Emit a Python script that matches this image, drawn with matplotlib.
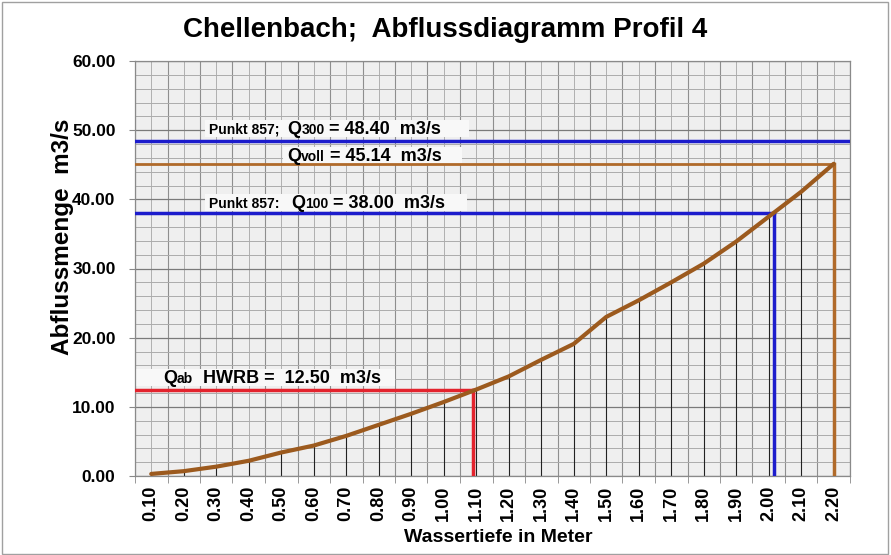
import matplotlib
matplotlib.use("Agg")
import matplotlib.pyplot as plt
from matplotlib.patches import Rectangle
import numpy as np

# ---- data ----
depth = [0.10, 0.20, 0.30, 0.40, 0.50, 0.60, 0.70, 0.80, 0.90, 1.00, 1.10,
         1.20, 1.30, 1.40, 1.50, 1.60, 1.70, 1.80, 1.90, 2.00, 2.10, 2.20]
flow = [0.3, 0.7, 1.35, 2.2, 3.4, 4.4, 5.8, 7.4, 9.0, 10.7, 12.5,
        14.4, 16.8, 19.1, 23.0, 25.4, 28.0, 30.7, 33.9, 37.5, 41.1, 45.14]
tick_labels = ["0.10", "0.20", "0.30", "0.40", "0.50", "0.60", "0.70", "0.80",
               "0.90", "1.00", "1.10", "1.20", "1.30", "1.40", "1.50", "1.60",
               "1.70", "1.80", "1.90", "2.00", "2.10", "2.20"]
q300 = 48.40
qvoll = 45.14
h_voll = 2.20
q100 = 38.00
h_100 = 2.015
qab = 12.50
h_ab = 1.09

plt.rcParams['font.family'] = ['Liberation Sans', 'DejaVu Sans']
plt.rcParams['font.weight'] = 'bold'

W, H = 891, 555
fig = plt.figure(figsize=(W / 100, H / 100), dpi=100)
ax = fig.add_axes([135 / W, 1 - 476 / H, 715 / W, 415 / H])
ax.set_facecolor('#efefef')

ax.set_xlim(0.05, 2.25)
ax.set_ylim(0, 60)

# grid
ax.set_xticks(depth)
ax.set_xticklabels(tick_labels, rotation=90, fontsize=13, fontweight='bold')
ax.set_xticks(np.arange(0.05, 2.26, 0.1), minor=True)
ax.set_yticks(np.arange(0, 61, 10))
ax.set_yticklabels([f"{v:.2f}" for v in np.arange(0, 61, 10)], fontsize=12.5, fontweight='bold')
ax.set_yticks(np.arange(0, 61, 2), minor=True)
ax.grid(which='major', axis='y', color='#7a7a7a', lw=0.9, zorder=0)
ax.grid(which='minor', axis='y', color='#ababab', lw=0.7, zorder=0)
ax.grid(which='major', axis='x', color='#b0b0b0', lw=0.7, zorder=0)
ax.grid(which='minor', axis='x', color='#8e8e8e', lw=0.8, zorder=0)
ax.set_axisbelow(True)
ax.tick_params(axis='x', which='major', length=0, pad=7)
ax.tick_params(axis='x', which='minor', length=5, color='#888888')
ax.tick_params(axis='y', which='major', length=4, color='#888888', pad=10)
ax.tick_params(axis='y', which='minor', length=0)
for s in ax.spines.values():
    s.set_color('#8a8a8a')
    s.set_linewidth(0.9)

# drop lines
ax.vlines(depth[:-1], 0, flow[:-1], color='#222222', lw=0.8, zorder=2)

# reference lines
ax.axhline(q300, color='#1c1ccc', lw=2.5, zorder=3)
ax.plot([0.05, h_voll], [qvoll, qvoll], color='#b06a2a', lw=2, zorder=3)
ax.plot([h_voll, h_voll], [0, qvoll], color='#b06a2a', lw=2.5, zorder=3)
ax.plot([0.05, h_100], [q100, q100], color='#1c1ccc', lw=2.5, zorder=3)
ax.plot([h_100, h_100], [0, q100], color='#1c1ccc', lw=2.5, zorder=3)
ax.plot([0.05, h_ab], [qab, qab], color='#e3232d', lw=2.5, zorder=3)
ax.plot([h_ab, h_ab], [0, qab], color='#e3232d', lw=2.5, zorder=3)

# curve
ax.plot(depth, flow, color='#9c5a1e', lw=3, zorder=4, solid_capstyle='round')

fig.text(498 / W, 1 - 537 / H, "Wassertiefe in Meter", ha='center', va='center',
         fontsize=14, fontweight='bold')
fig.text(62 / W, 1 - 237 / H, "Abflussmenge  m3/s", ha='center', va='center',
         rotation=90, fontsize=17.5, fontweight='bold')
fig.text(0.5, 1 - 30 / H, "Chellenbach;  Abflussdiagramm Profil 4", ha='center', va='center',
         fontsize=20, fontweight='bold')

BIG = 13
SMALL = 10

groups = [
    (209, 134, [("Punkt 857;  ", SMALL), ("Q", BIG), ("300", SMALL), (" = 48.40  m3/s", BIG)], (4, 28)),
    (287, 161, [("Q", BIG), ("voll", SMALL), (" = 45.14  m3/s", BIG)], (4, 20)),
    (209, 208, [("Punkt 857:   ", SMALL), ("Q", BIG), ("100", SMALL), (" = 38.00  m3/s", BIG)], (4, 22)),
    (163, 383, [("Q", BIG), ("ab", SMALL), ("  HWRB =  12.50  m3/s", BIG)], (28, 14)),
]
all_texts = []
for x, y, pcs, pad in groups:
    texts = []
    for txt, sz in pcs:
        t = ax.text(x / W, 1 - y / H, txt, transform=fig.transFigure, fontsize=sz,
                    fontweight='bold', ha='left', va='baseline', zorder=6)
        texts.append(t)
    all_texts.append((x, y, texts, pad))

fig.canvas.draw()
r = fig.canvas.get_renderer()
for x, y, texts, pad in all_texts:
    cur = x
    for t in texts:
        t.set_x(cur / W)
        cur += t.get_window_extent(r).width
fig.canvas.draw()
for x, y, texts, pad in all_texts:
    bbs = [t.get_window_extent(r) for t in texts]
    x0 = min(b.x0 for b in bbs) - pad[0]
    x1 = max(b.x1 for b in bbs) + pad[1]
    y0 = min(b.y0 for b in bbs) + 1
    y1 = max(b.y1 for b in bbs) + 1
    x0 = max(x0, ax.bbox.x0 + 1)
    rect = Rectangle((x0, y0), x1 - x0, y1 - y0, transform=None,
                     facecolor='#f8f8f8', edgecolor='none', zorder=2.5)
    ax.add_patch(rect)

fig.patches.append(Rectangle((0.002, 0.002), 0.995, 0.995, transform=fig.transFigure,
                             fill=False, edgecolor='#a0a0a0', lw=1))

fig.savefig("out.png", dpi=100)
